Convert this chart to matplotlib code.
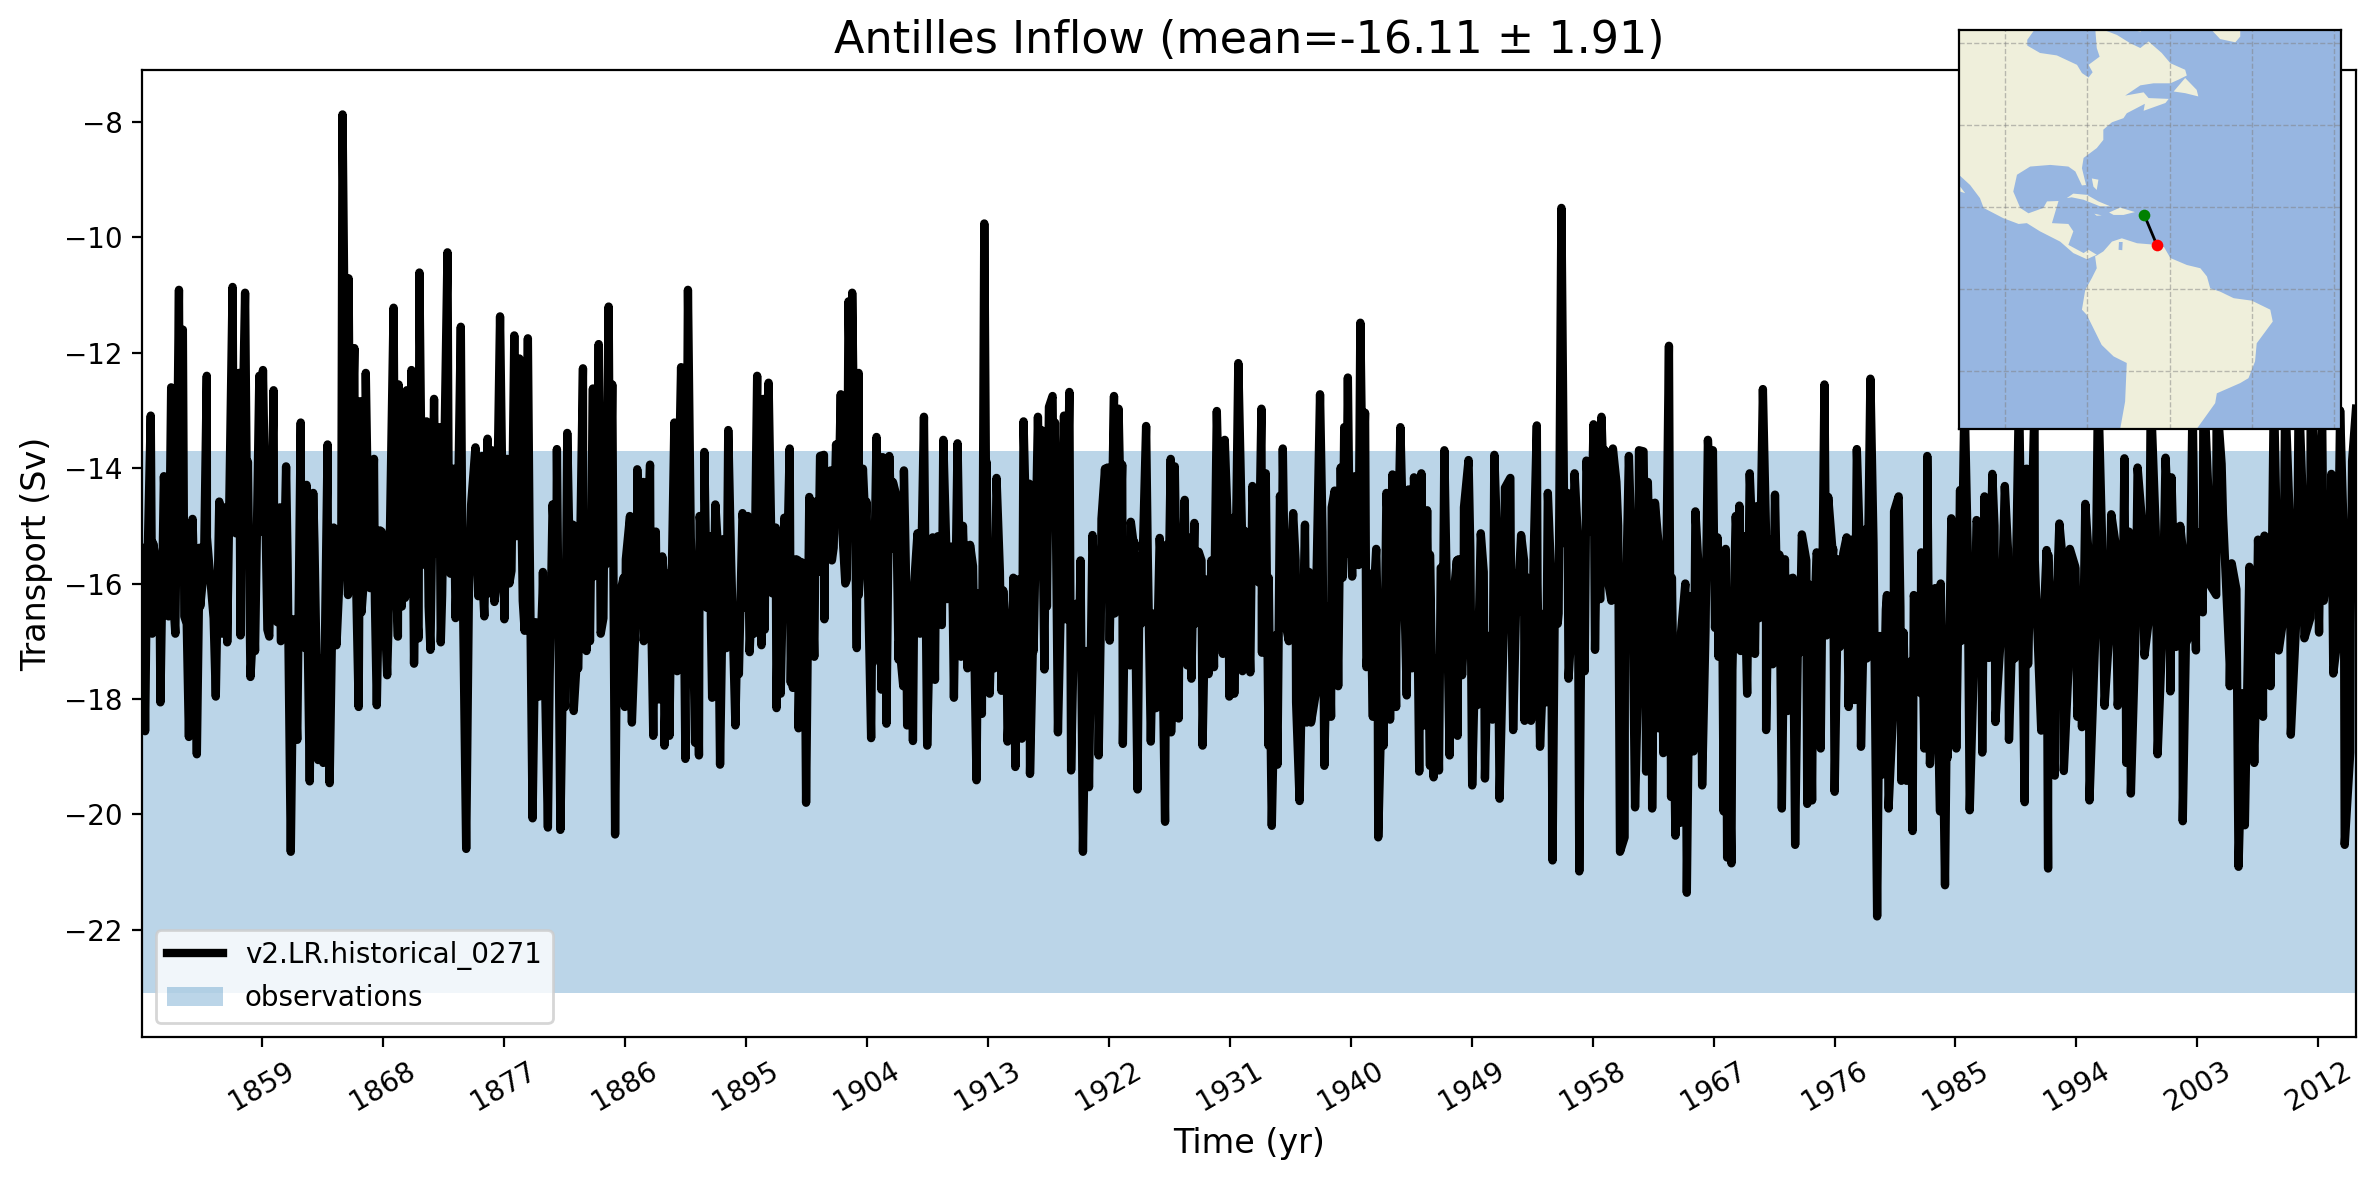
"""Antilles Inflow transport time series with a small location map."""
import matplotlib
matplotlib.use('Agg')
import matplotlib.pyplot as plt

# Turning points of the monthly series.
time_yr = [
    1850.07, 1850.14, 1850.30, 1850.72, 1850.83, 1851.09, 1851.44, 1851.70, 1852.05, 1852.24, 1852.55, 1852.82,
    1853.11, 1853.22, 1853.56, 1853.83, 1854.15, 1854.36, 1854.68, 1854.89, 1855.56, 1855.82, 1856.04, 1856.22,
    1856.41, 1856.81, 1857.05, 1857.29, 1857.42, 1857.74, 1857.95, 1858.14, 1858.48, 1858.80, 1859.07, 1859.54,
    1859.86, 1860.13, 1860.34, 1860.53, 1860.79, 1861.14, 1861.35, 1861.62, 1861.88, 1862.20, 1862.31, 1862.55,
    1862.81, 1863.18, 1863.56, 1863.88, 1864.03, 1864.33, 1864.54, 1864.99, 1865.20, 1865.44, 1865.58, 1865.87,
    1866.19, 1866.32, 1866.61, 1866.72, 1867.04, 1867.33, 1867.54, 1867.78, 1868.31, 1868.79, 1869.11, 1869.16,
    1869.43, 1869.64, 1869.77, 1870.12, 1870.31, 1870.65, 1870.71, 1871.13, 1871.24, 1871.53, 1871.80, 1871.98,
    1872.19, 1872.30, 1872.80, 1873.02, 1873.26, 1873.52, 1873.79, 1874.19, 1874.56, 1874.88, 1875.09, 1875.36,
    1875.54, 1875.78, 1875.94, 1876.10, 1876.29, 1876.71, 1877.03, 1877.24, 1877.56, 1877.77, 1877.93, 1878.15,
    1878.54, 1878.78, 1879.13, 1879.34, 1879.61, 1879.87, 1880.27, 1880.62, 1880.94, 1881.20, 1881.55, 1881.71,
    1881.92, 1882.13, 1882.19, 1882.53, 1882.88, 1883.14, 1883.30, 1883.62, 1883.67, 1884.05, 1884.20, 1884.47,
    1884.55, 1884.79, 1885.06, 1885.27, 1885.59, 1885.99, 1886.07, 1886.38, 1886.52, 1886.92, 1887.13, 1887.37,
    1887.50, 1887.87, 1888.11, 1888.30, 1888.56, 1888.78, 1888.94, 1889.25, 1889.31, 1889.68, 1889.89, 1890.18,
    1890.50, 1890.69, 1891.03, 1891.22, 1891.51, 1891.56, 1891.91, 1892.09, 1892.36, 1892.49, 1892.73, 1893.08,
    1893.34, 1893.55, 1893.69, 1894.22, 1894.48, 1894.75, 1894.94, 1895.15, 1895.28, 1895.60, 1895.84, 1896.16,
    1896.32, 1896.48, 1896.69, 1896.96, 1897.22, 1897.28, 1897.49, 1897.59, 1897.86, 1897.99, 1898.26, 1898.34,
    1898.50, 1898.74, 1898.92, 1899.14, 1899.48, 1899.72, 1900.09, 1900.20, 1900.52, 1900.81, 1900.84, 1901.13,
    1901.31, 1901.53, 1901.71, 1902.06, 1902.19, 1902.51, 1902.64, 1902.91, 1903.25, 1903.39, 1903.52, 1903.71,
    1903.97, 1904.32, 1904.45, 1904.72, 1905.09, 1905.17, 1905.46, 1905.67, 1905.94, 1906.18, 1906.36, 1906.71,
    1906.76, 1907.00, 1907.24, 1907.43, 1907.53, 1907.77, 1907.96, 1908.25, 1908.49, 1908.78, 1909.07, 1909.13,
    1909.29, 1909.58, 1909.69, 1909.98, 1910.30, 1910.48, 1910.75, 1911.01, 1911.15, 1911.49, 1911.68, 1912.16,
    1912.29, 1912.56, 1912.74, 1912.90, 1913.14, 1913.35, 1913.49, 1913.65, 1914.02, 1914.15, 1914.47, 1914.81,
    1915.05, 1915.21, 1915.53, 1915.66, 1916.09, 1916.14, 1916.41, 1916.73, 1916.99, 1917.21, 1917.34, 1917.55,
    1917.82, 1918.00, 1918.22, 1918.67, 1918.80, 1919.07, 1919.20, 1919.60, 1919.81, 1920.08, 1920.32, 1920.53,
    1920.79, 1921.14, 1921.25, 1921.46, 1921.72, 1921.91, 1922.07, 1922.39, 1922.44, 1922.73, 1923.00, 1923.05,
    1923.26, 1923.58, 1923.64, 1923.90, 1924.14, 1924.30, 1924.78, 1925.13, 1925.31, 1925.52, 1925.79, 1926.19,
    1926.29, 1926.61, 1926.64, 1926.91, 1927.20, 1927.30, 1927.65, 1927.84, 1928.15, 1928.37, 1928.69, 1928.98,
    1929.22, 1929.43, 1929.64, 1929.83, 1930.04, 1930.49, 1930.63, 1930.97, 1931.29, 1931.34, 1931.64, 1931.95,
    1932.08, 1932.35, 1932.53, 1932.69, 1933.15, 1933.36, 1933.41, 1933.68, 1933.89, 1934.13, 1934.34, 1934.55,
    1934.74, 1934.95, 1935.14, 1935.40, 1935.72, 1935.94, 1936.20, 1936.60, 1936.73, 1937.05, 1937.40, 1937.72,
    1938.04, 1938.25, 1938.54, 1938.59, 1938.81, 1939.07, 1939.26, 1939.52, 1939.66, 1939.79, 1940.11, 1940.32,
    1940.59, 1940.72, 1941.07, 1941.17, 1941.44, 1941.65, 1941.73, 1942.00, 1942.05, 1942.45, 1942.66, 1942.93,
    1943.11, 1943.38, 1943.70, 1944.17, 1944.31, 1944.57, 1944.71, 1945.10, 1945.26, 1945.50, 1945.69, 1945.90,
    1946.17, 1946.57, 1946.70, 1946.97, 1947.36, 1947.55, 1947.95, 1948.03, 1948.29, 1948.43, 1948.77, 1949.04,
    1949.30, 1949.41, 1949.68, 1949.99, 1950.15, 1950.55, 1950.69, 1951.08, 1951.48, 1951.88, 1952.09, 1952.36,
    1952.68, 1952.94, 1953.02, 1953.42, 1953.61, 1953.85, 1954.09, 1954.41, 1954.54, 1954.67, 1955.02, 1955.20,
    1955.47, 1955.68, 1956.13, 1956.21, 1956.66, 1957.01, 1957.20, 1957.41, 1957.54, 1958.07, 1958.18, 1958.39,
    1958.58, 1958.66, 1958.92, 1959.11, 1959.45, 1959.51, 1959.77, 1960.04, 1960.38, 1960.70, 1960.92, 1961.16,
    1961.45, 1961.79, 1961.98, 1962.11, 1962.43, 1962.64, 1962.91, 1963.18, 1963.26, 1963.68, 1963.84, 1964.16,
    1964.24, 1964.50, 1964.58, 1965.01, 1965.25, 1965.51, 1965.65, 1966.05, 1966.15, 1966.58, 1966.95, 1967.11,
    1967.29, 1967.37, 1967.64, 1967.75, 1968.01, 1968.14, 1968.33, 1968.65, 1968.92, 1969.02, 1969.29, 1969.50,
    1969.69, 1970.08, 1970.22, 1970.67, 1970.91, 1971.15, 1971.28, 1971.57, 1971.81, 1972.08, 1972.31, 1972.51,
    1972.79, 1973.07, 1973.29, 1973.57, 1973.97, 1974.13, 1974.33, 1974.67, 1974.97, 1975.25, 1975.53, 1975.87,
    1976.01, 1976.29, 1976.65, 1977.05, 1977.27, 1977.49, 1977.66, 1977.97, 1978.33, 1978.67, 1979.17, 1979.37,
    1979.57, 1979.82, 1980.02, 1980.43, 1980.77, 1980.97, 1981.14, 1981.36, 1981.67, 1981.81, 1982.17, 1982.45,
    1982.68, 1982.90, 1983.10, 1983.49, 1983.85, 1984.22, 1984.41, 1984.69, 1985.06, 1985.34, 1985.67, 1986.06,
    1986.57, 1986.99, 1987.16, 1987.49, 1987.74, 1987.97, 1988.67, 1988.98, 1989.37, 1989.73, 1990.15, 1990.29,
    1990.88, 1991.38, 1991.78, 1991.89, 1992.39, 1992.73, 1993.06, 1993.51, 1993.93, 1994.07, 1994.41, 1994.66,
    1994.97, 1995.61, 1996.09, 1996.59, 1997.07, 1997.57, 1997.71, 1998.05, 1998.55, 1999.06, 1999.53, 2000.04,
    2000.63, 2000.99, 2001.07, 2001.72, 2001.91, 2002.14, 2002.64, 2002.89, 2003.45, 2004.01, 2004.43, 2004.80,
    2005.41, 2005.55, 2006.06, 2006.53, 2006.87, 2007.23, 2007.51, 2007.88, 2007.99, 2008.44, 2008.69, 2009.05,
    2009.53, 2009.95, 2010.54, 2010.96, 2011.43, 2012.05, 2012.27, 2012.97, 2013.11, 2013.62, 2013.96, 2014.37,
    2014.51, 2014.80,
]
transport_sv = [
    -15.38, -15.38, -18.56, -13.09, -16.87, -15.58, -18.06, -14.14, -16.57, -12.60, -16.87, -10.91,
    -11.60, -16.57, -18.66, -14.88, -18.96, -15.38, -15.73, -12.40, -17.96, -14.58, -16.87, -14.68,
    -17.02, -10.86, -15.13, -12.35, -14.98, -10.96, -13.89, -17.62, -17.17, -12.40, -12.30, -16.92,
    -12.65, -16.67, -14.68, -16.92, -13.97, -20.65, -16.62, -18.71, -13.21, -17.12, -14.29, -19.43,
    -14.43, -19.06, -19.11, -13.59, -19.46, -15.03, -17.07, -7.87, -13.00, -10.71, -15.23, -11.92,
    -18.14, -12.84, -15.83, -12.35, -16.08, -13.84, -18.11, -15.08, -17.59, -11.22, -16.92, -12.55,
    -14.68, -16.25, -12.65, -12.30, -17.39, -16.95, -10.61, -15.68, -13.19, -17.15, -12.80, -15.48,
    -13.29, -17.02, -10.26, -15.83, -14.01, -15.63, -11.55, -20.60, -14.63, -13.64, -16.22, -13.79,
    -16.57, -13.49, -16.17, -13.69, -16.32, -11.37, -16.62, -13.84, -15.78, -11.70, -15.18, -12.10,
    -16.82, -11.75, -20.07, -16.67, -17.96, -16.17, -20.23, -14.63, -13.67, -20.27, -18.14, -13.39,
    -17.47, -14.98, -18.21, -17.47, -12.27, -17.17, -15.18, -12.62, -15.88, -11.85, -16.87, -14.58,
    -15.68, -11.20, -12.55, -20.35, -16.22, -18.14, -15.58, -14.83, -18.41, -14.02, -16.12, -14.24,
    -16.72, -13.94, -18.64, -15.10, -18.01, -15.53, -18.81, -15.83, -18.64, -13.21, -17.52, -12.25,
    -19.04, -10.91, -16.17, -18.76, -18.98, -14.83, -13.72, -16.42, -15.18, -17.98, -14.63, -19.14,
    -15.23, -17.12, -13.34, -18.46, -17.57, -14.78, -16.42, -14.83, -17.19, -16.87, -12.40, -17.07,
    -12.80, -14.29, -12.52, -16.17, -15.03, -18.16, -15.53, -17.91, -14.86, -16.52, -13.66, -17.72,
    -17.81, -15.58, -18.51, -15.63, -19.80, -14.50, -17.27, -14.58, -13.79, -13.77, -16.62, -14.53,
    -14.04, -15.38, -13.59, -12.72, -15.13, -15.93, -11.11, -10.96, -17.12, -12.35, -15.68, -14.01,
    -14.58, -18.68, -17.37, -13.46, -17.84, -13.81, -18.43, -13.79, -14.24, -14.46, -17.32, -17.78,
    -14.04, -18.46, -16.12, -18.73, -15.98, -15.13, -16.87, -13.11, -18.81, -15.73, -17.67, -15.83,
    -15.18, -16.72, -13.51, -16.27, -15.36, -17.98, -13.57, -17.27, -15.00, -17.47, -15.33, -19.41,
    -16.17, -18.26, -9.76, -13.89, -17.91, -16.08, -17.47, -14.17, -17.86, -16.12, -18.74, -17.02,
    -19.18, -15.93, -18.69, -13.19, -14.27, -19.30, -17.17, -13.11, -13.34, -17.49, -14.11, -12.94,
    -12.75, -13.21, -18.58, -13.09, -16.62, -12.68, -19.24, -16.35, -16.87, -20.65, -17.17, -19.53,
    -15.16, -15.63, -18.98, -14.88, -14.01, -13.99, -16.99, -12.75, -16.52, -12.97, -13.94, -18.78,
    -15.26, -17.42, -14.93, -15.28, -19.57, -15.53, -13.27, -18.74, -16.52, -18.16, -15.21, -20.13,
    -15.33, -13.84, -18.58, -13.97, -18.34, -15.13, -14.55, -17.42, -17.65, -14.95, -15.45, -18.81,
    -15.93, -17.57, -15.60, -17.45, -13.01, -17.22, -13.51, -17.96, -14.86, -17.91, -12.18, -17.52,
    -15.08, -16.77, -17.54, -14.31, -15.98, -12.97, -16.22, -14.09, -18.81, -20.20, -17.86, -19.14,
    -14.48, -13.66, -16.67, -16.32, -14.78, -18.06, -19.77, -14.98, -18.41, -18.41, -17.91, -12.72,
    -19.16, -16.62, -18.31, -14.68, -14.39, -17.78, -13.99, -13.29, -15.48, -12.43, -15.88, -14.14,
    -15.68, -11.48, -13.04, -17.45, -15.83, -18.31, -16.15, -16.57, -20.40, -18.81, -14.43, -18.36,
    -14.11, -18.14, -13.29, -17.94, -14.37, -17.47, -14.16, -19.26, -14.09, -18.46, -14.73, -19.16,
    -19.36, -19.24, -15.73, -13.69, -18.98, -16.49, -18.64, -15.58, -17.59, -14.68, -13.86, -19.50,
    -16.92, -18.11, -15.13, -19.38, -17.67, -18.36, -13.77, -19.73, -14.34, -14.17, -18.54, -15.83,
    -15.16, -18.38, -15.88, -18.38, -15.58, -13.26, -18.83, -16.52, -18.06, -14.43, -20.80, -15.93,
    -16.52, -9.49, -14.43, -17.65, -14.09, -20.99, -15.43, -17.52, -13.87, -13.24, -17.15, -13.84,
    -16.27, -13.11, -13.69, -15.91, -15.73, -13.66, -14.24, -20.65, -20.40, -13.79, -15.28, -19.88,
    -13.69, -13.71, -19.26, -14.24, -19.90, -14.60, -18.51, -17.22, -18.94, -11.88, -19.70, -20.37,
    -17.07, -20.15, -16.85, -21.36, -16.22, -18.91, -14.75, -16.37, -19.50, -13.51, -13.69, -16.77,
    -15.20, -17.27, -16.08, -19.95, -20.75, -18.26, -20.85, -14.83, -14.65, -17.17, -15.18, -17.91,
    -14.09, -17.22, -14.66, -12.63, -18.54, -15.23, -17.37, -14.46, -17.17, -19.90, -15.58, -18.21,
    -15.91, -20.53, -16.73, -15.15, -19.82, -16.02, -19.76, -15.46, -18.86, -12.55, -14.50, -15.49,
    -19.61, -15.58, -15.48, -18.14, -15.24, -18.02, -13.67, -18.83, -15.06, -12.45, -21.77, -16.91,
    -19.31, -16.45, -19.90, -14.75, -14.49, -19.42, -16.85, -19.42, -17.35, -20.29, -16.64, -15.46,
    -18.86, -13.79, -19.13, -16.08, -19.95, -21.23, -19.02, -14.87, -18.86, -14.38, -12.70, -19.93,
    -14.90, -18.93, -14.49, -17.29, -14.10, -18.40, -14.31, -18.71, -15.74, -12.60, -19.79, -14.01,
    -12.90, -18.55, -15.42, -20.94, -19.33, -14.96, -19.25, -15.40, -15.74, -18.31, -18.49, -14.62,
    -19.76, -12.50, -18.12, -14.80, -18.12, -13.83, -19.11, -19.64, -13.99, -17.25, -12.70, -18.96,
    -13.82, -17.87, -14.16, -15.00, -20.12, -17.04, -12.80, -17.16, -12.40, -16.05, -12.70, -13.93,
    -17.78, -15.65, -20.91, -20.19, -15.71, -19.11, -15.24, -18.31, -15.17, -17.78, -12.60, -17.16,
    -12.70, -18.62, -12.60, -16.95, -12.50, -16.85, -12.80, -14.10, -17.56, -13.00, -20.53, -18.93,
    -13.88, -12.97,
]
# Smaller swings inside the solid black core, estimated half a year apart from 1850.4 on.
core_sv = [
    -16.5, -15.3, -16.8, -15.4, -16.3, -15.1, -16.7, -15.5, -16.4, -15.2,
    -16.6, -15.2, -16.2, -15.0, -16.9, -15.3, -16.5, -15.1, -16.8, -15.4,
    -17.0, -15.6, -17.2, -15.4, -16.9, -15.3, -17.3, -15.7, -16.7, -15.2,
    -16.2, -14.8, -16.5, -15.0, -16.3, -15.1, -16.8, -15.4, -16.4, -15.0,
    -16.1, -14.9, -16.4, -14.8, -16.2, -15.2, -16.6, -15.3, -16.0, -14.9,
    -15.9, -14.6, -16.1, -14.7, -16.0, -14.9, -16.3, -15.0, -17.2, -15.8,
    -17.6, -15.9, -17.3, -15.7, -17.4, -16.0, -17.0, -15.5, -16.6, -15.3,
    -17.2, -15.9, -17.5, -16.0, -17.0, -15.7, -17.3, -15.9, -17.1, -15.6,
    -16.6, -15.2, -16.9, -15.5, -16.7, -15.3, -17.0, -15.6, -16.4, -15.1,
    -16.5, -15.3, -16.8, -15.4, -16.3, -15.0, -16.9, -15.6, -17.1, -15.5,
    -15.8, -14.6, -15.6, -14.5, -16.0, -14.7, -16.2, -15.0, -16.5, -15.1,
    -16.7, -15.4, -17.0, -15.7, -16.8, -15.5, -16.6, -15.2, -16.4, -15.3,
    -16.5, -15.6, -16.8, -15.7, -16.3, -15.5, -16.9, -15.8, -17.1, -15.9,
    -17.0, -15.5, -16.6, -15.0, -16.4, -14.9, -16.7, -15.2, -16.9, -15.6,
    -17.2, -15.8, -16.8, -15.3, -16.3, -14.9, -16.6, -15.4, -16.7, -15.5,
    -16.8, -15.7, -17.0, -15.6, -16.5, -15.2, -16.7, -15.6, -16.6, -15.5,
    -16.5, -15.3, -16.4, -15.0, -16.6, -15.4, -17.2, -15.9, -16.9, -15.3,
    -17.0, -15.6, -17.3, -15.8, -16.6, -15.1, -16.4, -14.8, -15.9, -14.7,
    -15.6, -14.6, -16.8, -15.4, -17.1, -15.5, -16.9, -15.2, -16.7, -15.0,
    -17.1, -15.5, -17.3, -15.7, -16.9, -15.6, -17.0, -15.4, -17.2, -15.8,
    -16.9, -15.3, -16.6, -15.2, -16.5, -15.6, -17.0, -16.0, -17.1, -15.8,
    -16.7, -15.3, -16.9, -15.2, -16.4, -15.1, -16.2, -14.9, -16.3, -15.0,
    -17.2, -15.4, -17.5, -15.6, -17.1, -15.3, -17.4, -15.9, -17.6, -16.0,
    -17.3, -15.8, -16.8, -15.1, -16.7, -15.4, -17.5, -15.9, -16.9, -15.3,
    -16.6, -15.1, -17.4, -15.5, -17.6, -15.9, -17.2, -15.6, -17.3, -15.7,
    -16.9, -15.4, -17.1, -15.2, -16.8, -15.5, -17.3, -15.3, -17.5, -16.2,
    -18.0, -16.4, -17.8, -16.2, -17.9, -16.3, -17.5, -16.0, -17.2, -15.7,
    -17.0, -15.3, -17.1, -15.2, -16.7, -15.0, -16.8, -15.4, -17.3, -15.6,
    -17.4, -15.6, -17.6, -15.5, -17.2, -15.4, -17.5, -15.7, -17.3, -15.5,
    -16.9, -15.2, -17.0, -15.3, -17.2, -15.1, -16.8, -15.0, -16.6, -15.1,
    -16.8, -15.2, -17.1, -15.4, -16.9, -15.1, -16.5, -14.9, -16.2, -14.8,
    -17.4, -16.1, -17.9, -15.9, -17.3, -15.5, -17.0, -15.2, -16.6, -15.1,
    -16.4, -15.0, -16.6, -14.9, -16.3, -15.1, -17.0, -15.3, -16.7,
]
core_time = [1850.4 + 0.5 * i for i in range(len(core_sv))]
obs_low = -23.09
obs_high = -13.70
year_ticks = [1859, 1868, 1877, 1886, 1895, 1904, 1913, 1922, 1931, 1940, 1949, 1958, 1967, 1976, 1985,
              1994, 2003, 2012]

# Section end points on the map (lon, lat).
section_lon = [-66.1, -63.1]
section_lat = [18.0, 10.8]
grid_lon = [-100, -80, -60, -40, -20]
grid_lat = [60, 40, 20, 0, -20]

# Coastlines traced by hand (lon, lat).
north_america = [
    (-112, 64), (-92.3, 64), (-94.6, 60.8), (-94.6, 59.4), (-91.5, 57.6), (-87.4, 57.0), (-82.5, 54.7),
    (-81.3, 52.7), (-79.7, 51.6), (-78.7, 52.9), (-79.7, 54.7), (-77.0, 56.7), (-77.7, 58.8), (-78.1, 64),
    (-72.8, 62.0), (-69.6, 60.0), (-67.1, 58.8), (-65.1, 60.4), (-61.9, 57.6), (-59.8, 55.1), (-56.2, 53.5),
    (-55.8, 52.1), (-57.8, 51.1), (-59.8, 50.2), (-63.9, 50.2), (-67.1, 49.7), (-70.8, 47.2), (-66.3, 48.0),
    (-65.1, 46.6), (-60.2, 46.4), (-61.0, 45.4), (-66.3, 43.5), (-66.0, 45.2), (-70.4, 42.9), (-71.2, 41.7),
    (-74.0, 40.7), (-76.1, 38.9), (-76.1, 36.4), (-77.7, 34.4), (-80.9, 32.0), (-81.3, 29.5), (-80.3, 25.4),
    (-81.3, 25.3), (-82.9, 28.7), (-84.6, 29.9), (-89.0, 30.3), (-93.9, 29.9), (-97.1, 27.9), (-98.0, 23.8),
    (-96.3, 19.8), (-94.3, 18.5), (-90.7, 19.8), (-89.8, 21.4), (-87.0, 21.5), (-88.6, 16.1), (-84.6, 15.9),
    (-83.4, 14.1), (-84.6, 10.8), (-80.9, 8.8), (-79.7, 9.6), (-77.7, 8.4), (-80.1, 7.3), (-83.4, 8.8),
    (-86.6, 11.6), (-91.5, 14.1), (-94.7, 16.1), (-96.7, 15.9), (-100.4, 17.3), (-105.2, 19.8), (-106.1, 22.2),
    (-108.5, 25.4), (-110.9, 27.6), (-112, 27.6),
]
south_america = [
    (-77.7, 8.2), (-76.1, 9.2), (-74.0, 11.6), (-71.6, 12.4), (-67.9, 11.2), (-63.1, 10.8), (-61.3, 10.2),
    (-59.8, 7.6), (-55.8, 5.9), (-52.5, 5.1), (-50.9, 3.1), (-50.1, 0.2), (-47.7, -0.6), (-44.4, -2.2),
    (-40.0, -2.8), (-35.5, -5.0), (-34.9, -7.9), (-38.8, -13.2), (-39.2, -17.6), (-40.8, -21.7), (-42.8, -22.9),
    (-48.5, -25.4), (-48.9, -27.8), (-53.4, -34.1), (-53.4, -36), (-72, -36), (-72, -34.1), (-70.8, -27.4),
    (-70.4, -18.0), (-73.6, -16.4), (-76.5, -13.6), (-80.1, -6.3), (-81.3, -5.0), (-80.5, -0.2), (-78.9, 2.7),
    (-77.7, 5.1), (-78.1, 8.0),
]
islands = [
    [(-85.0, 22.2), (-83.4, 23.3), (-80.1, 23.0), (-77.3, 21.4), (-74.4, 20.2), (-76.9, 20.2), (-80.9, 21.8),
     (-83.8, 22.4)],
    [(-74.7, 18.7), (-72.0, 19.9), (-68.4, 18.8), (-71.2, 18.1), (-73.6, 18.1)],
    [(-78.3, 18.4), (-76.5, 18.0), (-77.7, 17.9)],
    [(-50.5, 64), (-42.8, 64), (-42.8, 61.6), (-44.0, 60.2), (-47.7, 61.0)],
    [(-59.0, 48.2), (-56.2, 51.5), (-53.4, 48.6), (-53.0, 47.0), (-56.2, 47.8)],
    [(-78.9, 27.0), (-77.3, 26.7), (-77.7, 24.2), (-78.5, 25.0)],
    [(-110.9, 25.0), (-109.7, 23.4), (-110.9, 23.8)],
    [(-84.2, 64), (-80.0, 64), (-81.0, 63.0)],
    [(-74.0, 64), (-66.0, 64), (-67.0, 62.8)],
]
maracaibo = [(-72.3, 11.5), (-71.4, 11.5), (-71.5, 9.5), (-72.4, 9.6)]

LAND = '#EFEFDB'
OCEAN = '#97B6E1'

# Put the turning points and the core swings back into time order.
series = sorted(zip(time_yr + core_time, transport_sv + core_sv))

fig = plt.figure(figsize=(11.875, 5.9), dpi=200)
ax = fig.add_axes([142 / 2375, 143 / 1180, 2214 / 2375, 967 / 1180])

ax.plot([s[0] for s in series], [s[1] for s in series], color='k', lw=3, label='v2.LR.historical_0271')
ax.fill_between([1850, 2015], obs_low, obs_high, color='#1f77b4', alpha=0.3, lw=0, label='observations')

ax.set_xlim(1850.07, 2014.8)
ax.set_ylim(-23.86, -7.10)
ax.set_xticks(year_ticks)
ax.set_xticklabels([str(y) for y in year_ticks], rotation=30)
ax.set_xlabel('Time (yr)', fontsize=12)
ax.set_ylabel('Transport (Sv)', fontsize=12)
ax.set_title('Antilles Inflow (mean=-16.11 ± 1.91)', fontsize=16)
ax.legend(loc='lower left')

# Location map on top of the main axes.
inset = fig.add_axes([1959 / 2375, (1180 - 429) / 1180, 382 / 2375, 399 / 1180])
inset.set_facecolor(OCEAN)
for coast in [north_america, south_america] + islands:
    inset.fill([p[0] for p in coast], [p[1] for p in coast], color=LAND, lw=0)
inset.fill([p[0] for p in maracaibo], [p[1] for p in maracaibo], color=OCEAN, lw=0)
for lon in grid_lon:
    inset.axvline(lon, color='gray', lw=0.5, ls='--', alpha=0.5)
for lat in grid_lat:
    inset.axhline(lat, color='gray', lw=0.5, ls='--', alpha=0.5)
inset.plot(section_lon, section_lat, color='k', lw=1)
inset.plot(section_lon[0], section_lat[0], 'o', color='green', ms=4.2, mew=0)
inset.plot(section_lon[1], section_lat[1], 'o', color='red', ms=4.2, mew=0)
inset.set_xlim(-111.2, -18.3)
inset.set_ylim(-34.1, 63.2)
inset.set_xticks([])
inset.set_yticks([])

fig.savefig('out.png', dpi=200)
